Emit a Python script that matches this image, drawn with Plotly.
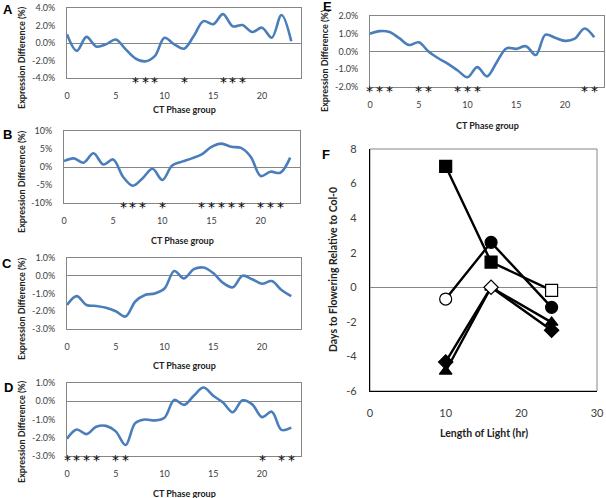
import plotly.graph_objects as go

W, H = 606, 498

# ---------------- data ----------------
ct_phase = list(range(24))

expr_a = [1.0, -0.9, 0.7, -0.4, -0.15, 0.4, -0.7, -1.75, -2.1, -1.5, 0.6, -0.15,
          -0.65, 0.8, 2.5, 2.15, 3.3, 1.9, 2.05, 1.25, 1.75, 0.6, 3.2, 0.2]
expr_b = [1.65, 2.4, 1.2, 3.8, 0.7, 2.1, -2.7, -5.2, -3.1, -0.5, -3.6, 0.4,
          1.5, 2.4, 3.5, 5.6, 6.5, 5.6, 5.3, 2.8, -2.5, -1.3, -1.6, 2.6]
expr_c = [-1.65, -1.15, -1.65, -1.7, -1.8, -2.0, -2.3, -1.45, -1.08, -1.0, -0.72, 0.27,
          -0.15, 0.37, 0.46, 0.15, -0.4, -0.65, 0.0, -0.2, -0.45, -0.3, -0.8, -1.15]
expr_d = [-2.05, -1.55, -1.8, -1.4, -1.35, -1.65, -2.4, -1.2, -1.0, -1.05, -0.9, 0.07,
          -0.2, 0.3, 0.75, 0.3, -0.07, -0.6, 0.05, -0.17, -0.87, -0.57, -1.57, -1.45]
expr_e = [1.0, 1.15, 1.1, 0.75, 0.37, 0.52, 0.0, -0.38, -0.7, -1.07, -1.45, -0.88,
          -1.4, -0.6, 0.18, 0.15, 0.3, -0.2, 0.95, 0.77, 0.6, 0.72, 1.3, 0.8]

stars_a = [7, 8, 9, 12, 16, 17, 18]
stars_b = [6, 7, 8, 10, 14, 15, 16, 17, 18, 20, 21, 22]
stars_c = []
stars_d = [0, 1, 2, 3, 5, 6, 20, 22, 23]
stars_e = [0, 1, 2, 5, 6, 9, 10, 11, 22, 23]

ct_ticks = [0, 5, 10, 15, 20]
ct_ticktext = ["0", "5", "10", "15", "20"]

ytick_a = [-4, -2, 0, 2, 4]
ytext_a = ["-4.0%", "-2.0%", "0.0%", "2.0%", "4.0%"]
ytick_b = [-10, -5, 0, 5, 10]
ytext_b = ["-10%", "-5%", "0%", "5%", "10%"]
ytick_cd = [-3, -2, -1, 0, 1]
ytext_cd = ["-3.0%", "-2.0%", "-1.0%", "0.0%", "1.0%"]
ytick_e = [-2, -1, 0, 1, 2]
ytext_e = ["-2.0%", "-1.0%", "0.0%", "1.0%", "2.0%"]

light_hours = [10, 16, 24]
days_square = [7.0, 1.46, -0.18]
fill_square = ["black", "black", "white"]
days_circle = [-0.68, 2.6, -1.16]
fill_circle = ["white", "black", "black"]
days_triangle = [-4.86, 0.0, -2.03]
fill_triangle = ["black", "white", "black"]
days_diamond = [-4.32, 0.0, -2.49]
fill_diamond = ["black", "white", "black"]

f_xticks = [0, 10, 20, 30]
f_xtext = ["0", "10", "20", "30"]
f_yticks = [-6, -4, -2, 0, 2, 4, 6, 8]
f_ytext = ["-6", "-4", "-2", "0", "2", "4", "6", "8"]

# ---------------- layout helpers ----------------
FONT = "Lato"
GRAY = "#868686"
BLUE = "#4A7EBB"
TICKC = "#404040"


def dom_x(x0, x1):
    return [x0 / W, x1 / W]


def dom_y(y0, y1):
    return [1 - y1 / H, 1 - y0 / H]


def py(y):
    return 1 - y / H


def px(x):
    return x / W


fig = go.Figure()

panels = [
    # name, values, stars, box(x0,y0,x1,y1), yr, ytick, ytext, letter pos, ytitle pos, xtitle y
    ("A", expr_a, stars_a, (67, 8, 301, 78), (-4, 4), ytick_a, ytext_a, (8, 9), (21, 58), 109),
    ("B", expr_b, stars_b, (64, 131, 300, 203), (-10, 10), ytick_b, ytext_b, (7, 134), (21, 182), 240),
    ("C", expr_c, stars_c, (67, 258, 301, 329), (-3, 1), ytick_cd, ytext_cd, (7, 263), (21, 309), 365),
    ("D", expr_d, stars_d, (67, 383, 301, 456), (-3, 1), ytick_cd, ytext_cd, (8, 387), (21, 432), 493),
    ("E", expr_e, stars_e, (370, 16, 604, 87), (-2, 2), ytick_e, ytext_e, (327, 7), (325, 61), 125),
]

annotations = []
shapes = []

for i, (name, vals, stars, box, yr, ytv, ytt, lpos, ytpos, xty) in enumerate(panels):
    k = i + 1
    xa = "x" if k == 1 else f"x{k}"
    ya = "y" if k == 1 else f"y{k}"
    fig.add_trace(go.Scatter(
        x=ct_phase, y=vals, mode="lines",
        line=dict(color=BLUE, width=2.6, shape="spline", smoothing=1.0),
        xaxis=xa, yaxis=ya, showlegend=False, hoverinfo="skip"))
    x0, y0, x1, y1 = box
    fig.layout[f"xaxis{'' if k == 1 else k}"] = dict(
        domain=dom_x(x0, x1), anchor=ya, range=[0, 24], automargin=False,
        tickvals=ct_ticks, ticktext=ct_ticktext, showgrid=False, zeroline=False,
        showline=True, mirror=True, linecolor=GRAY, linewidth=1,
        ticks="", ticklabelstandoff=9,
        tickfont=dict(family=FONT, size=9, color=TICKC), fixedrange=True)
    fig.layout[f"yaxis{'' if k == 1 else k}"] = dict(
        domain=dom_y(y0, y1), anchor=xa, range=list(yr), automargin=False,
        tickvals=ytv, ticktext=ytt, showgrid=False,
        zeroline=True, zerolinecolor=GRAY, zerolinewidth=1,
        showline=True, mirror=True, linecolor=GRAY, linewidth=1,
        ticks="", ticklabelstandoff=9,
        tickfont=dict(family=FONT, size=9, color=TICKC), fixedrange=True)
    # stars
    for s in stars:
        annotations.append(dict(
            x=s, xref=xa, y=py(y1 + 4), yref="paper", text="*", showarrow=False,
            xanchor="center", yanchor="middle", borderpad=0,
            font=dict(family="DejaVu Sans", size=14, color="black")))
    # panel letter
    annotations.append(dict(
        x=px(lpos[0]), y=py(lpos[1]), xref="paper", yref="paper", text=f"<b>{name}</b>",
        showarrow=False, xanchor="center", yanchor="middle",
        font=dict(family="Arial", size=13, color="black")))
    # y title
    annotations.append(dict(
        x=px(ytpos[0]), y=py(ytpos[1]), xref="paper", yref="paper",
        text="<b>Expression Difference (%)</b>", textangle=-90, showarrow=False,
        xanchor="center", yanchor="middle",
        font=dict(family=FONT, size=9, color="#222222")))
    # x title
    annotations.append(dict(
        x=px((x0 + x1) / 2), y=py(xty), xref="paper", yref="paper",
        text="<b>CT Phase group</b>", showarrow=False,
        xanchor="center", yanchor="middle",
        font=dict(family=FONT, size=9, color="#222222")))

# ---------------- panel F ----------------
fx0, fy0, fx1, fy1 = 370, 149, 597, 391
f_series = [
    (days_square, fill_square, "square", 12),
    (days_circle, fill_circle, "circle", 12),
    (days_triangle, fill_triangle, "triangle-up", 11),
    (days_diamond, fill_diamond, "diamond", 11),
]
for vals, fills, sym, size in f_series:
    fig.add_trace(go.Scatter(
        x=light_hours, y=vals, mode="lines+markers",
        line=dict(color="black", width=2.4),
        marker=dict(symbol=sym, size=size, color=fills,
                    line=dict(color="black", width=1.2)),
        xaxis="x6", yaxis="y6", showlegend=False, hoverinfo="skip", cliponaxis=False))

fig.layout["xaxis6"] = dict(
    domain=dom_x(fx0, fx1), anchor="y6", range=[0, 30], automargin=False,
    tickvals=f_xticks, ticktext=f_xtext, showgrid=False, zeroline=False,
    showline=True, mirror=False, linecolor="black", linewidth=1.2,
    ticks="", ticklabelstandoff=12,
    tickfont=dict(family=FONT, size=11, color=TICKC), fixedrange=True)
fig.layout["yaxis6"] = dict(
    domain=dom_y(fy0, fy1), anchor="x6", range=[-6, 8], automargin=False,
    tickvals=f_yticks, ticktext=f_ytext, showgrid=False,
    zeroline=True, zerolinecolor=GRAY, zerolinewidth=1,
    showline=True, mirror=False, linecolor="black", linewidth=1.2,
    ticks="", ticklabelstandoff=10,
    tickfont=dict(family=FONT, size=11, color=TICKC), fixedrange=True)
shapes.append(dict(type="rect", xref="x6 domain", yref="y6 domain",
                   x0=0, x1=1, y0=0, y1=1, line=dict(color=GRAY, width=1),
                   layer="below"))
annotations.append(dict(
    x=px(326), y=py(154), xref="paper", yref="paper", text="<b>F</b>",
    showarrow=False, xanchor="center", yanchor="middle",
    font=dict(family="Arial", size=13, color="black")))
annotations.append(dict(
    x=px(333), y=py((fy0 + fy1) / 2), xref="paper", yref="paper",
    text="<b>Days to Flowering Relative to Col-0</b>", textangle=-90, showarrow=False,
    xanchor="center", yanchor="middle",
    font=dict(family=FONT, size=10.5, color="#222222")))
annotations.append(dict(
    x=px((fx0 + fx1) / 2), y=py(433), xref="paper", yref="paper",
    text="<b>Length of Light (hr)</b>", showarrow=False,
    xanchor="center", yanchor="middle",
    font=dict(family=FONT, size=10.5, color="#222222")))

fig.update_layout(
    width=W, height=H, margin=dict(l=0, r=0, t=0, b=0, autoexpand=False),
    paper_bgcolor="white", plot_bgcolor="white",
    annotations=annotations, shapes=shapes, showlegend=False,
    font=dict(family=FONT))

fig.write_html(
    "out.html",
    config={"displayModeBar": False},
    post_script="document.body.style.margin='0';document.body.style.padding='0';"
                "document.body.style.overflow='hidden';"
                "document.documentElement.style.overflow='hidden';")
